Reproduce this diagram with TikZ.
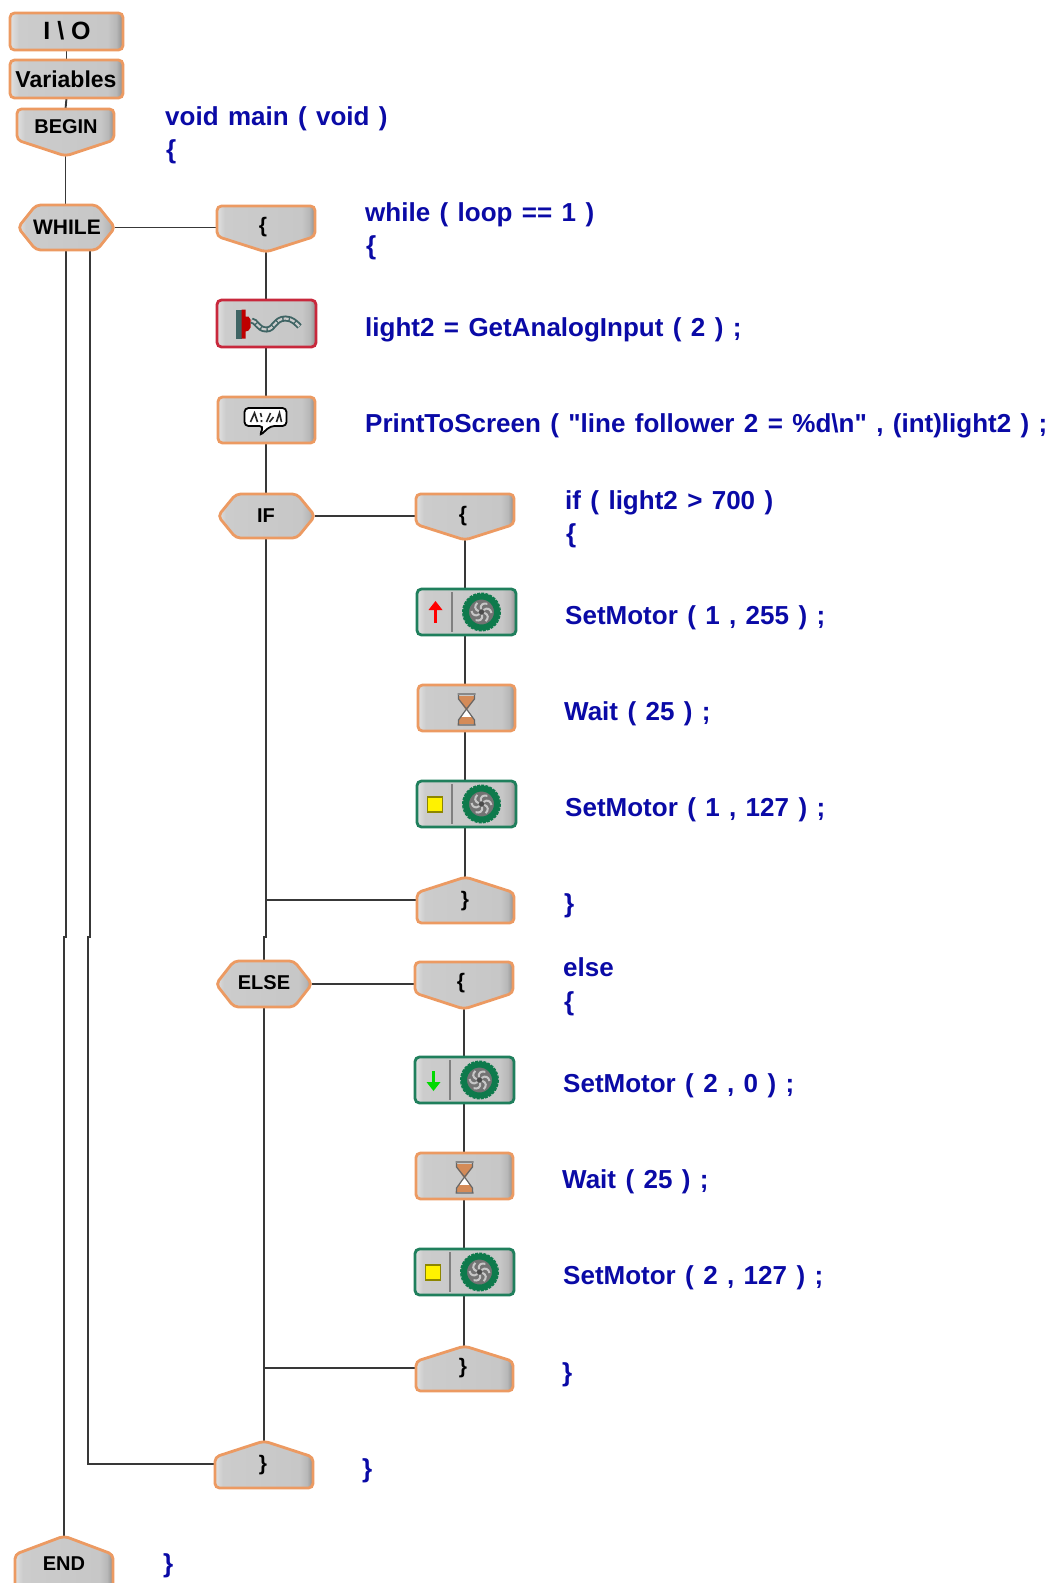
\documentclass[tikz,border=0pt]{standalone}
\usepackage{fontspec}
\setmainfont{Liberation Sans}
\newfontfamily\codefont[WordSpace=1.3]{Liberation Sans}
\usetikzlibrary{calc,fit}
\definecolor{edgeorange}{HTML}{EC9A62}
\definecolor{edgered}{HTML}{C8283C}
\definecolor{edgegreen}{HTML}{1F7F5C}
\definecolor{codeblue}{HTML}{0A0AA6}
\definecolor{wirecol}{HTML}{383838}
\definecolor{wheelgreen}{HTML}{0E7A4C}
\definecolor{chaincol}{HTML}{3F6464}
\pgfdeclarehorizontalshading{btnshade}{100bp}{color(0bp)=(white!88!black);color(25bp)=(white!88!black);color(29bp)=(white!80!black);color(68bp)=(white!78!black);color(72bp)=(white!72!black);color(75bp)=(white!55!black);color(100bp)=(white!55!black)}
\tikzset{
  plate/.style={inner sep=0pt,outer sep=0pt},
  wire/.style={draw=wirecol,line width=1.9pt},
  btn/.style={draw=#1,line width=2.8pt,rounded corners=4.5pt,shade,shading=btnshade},
  btn/.default=edgeorange,
  codetext/.style={text=codeblue,anchor=base west,inner sep=0pt,font=\codefont\bfseries\fontsize{26}{26}\selectfont},
  btnlabel/.style={text=black,inner sep=0pt,font=\bfseries\fontsize{#1}{#1}\selectfont},
  btnlabel/.default=21
}
\newcommand\plate[5]{\node[plate,fit={(#2,#3)(#4,#5)}] (#1) {};}
\newcommand\rectbtn[2][edgeorange]{\path[btn=#1] (#2.north west) rectangle (#2.south east);}
\newcommand\downbtn[1]{\path[btn] (#1.north west) -- (#1.north east) -- ($(#1.north east)!0.66!(#1.south east)$) -- (#1.south) -- ($(#1.north west)!0.66!(#1.south west)$) -- cycle;}
\newcommand\upbtn[1]{\path[btn] (#1.north) -- ($(#1.north east)!0.34!(#1.south east)$) -- (#1.south east) -- (#1.south west) -- ($(#1.north west)!0.34!(#1.south west)$) -- cycle;}
\newcommand\hexbtn[1]{\path[btn] (#1.west) -- ($(#1.north west)+(18,0)$) -- ($(#1.north east)+(-18,0)$) -- (#1.east) -- ($(#1.south east)+(-18,0)$) -- ($(#1.south west)+(18,0)$) -- cycle;}
\newcommand\wheelicon{%
  \draw[wheelgreen,line width=1.4pt,dash pattern=on 3pt off 1.2pt] (15,0) circle[radius=18.8];
  \draw[wheelgreen,line width=6pt,fill=white!45!black] (15,0) circle[radius=15.5];
  \foreach \a in {0,60,...,300}{\draw[white!78!black,line width=2pt,rotate around={\a:(15,0)}] (17,-2) .. controls (21,-5) and (24,-3) .. (25,1);}
  \fill[white!30!black] (15,0) circle[radius=2.5];
  \draw[white!50!black,line width=1.2pt] (-14.5,-20) -- (-14.5,20);
}
\newcommand\hourglass{%
  \fill[edgeorange!90!black] (-8,-12) -- (8,-12) -- (8,-9) -- (0,3) -- (-8,-9) -- cycle;
  \fill[white] (-8,15) -- (8,15) -- (0,0) -- cycle;
  \fill[edgeorange!90!black] (-9,16) -- (9,16) -- (6,9) -- (-6,9) -- cycle;
  \draw[white!40!black,line width=1.2pt] (-9,-14) -- (9,-14) (-9,17) -- (9,17) (-8,-13) -- (-8,-9) -- (0,1) -- (-8,12) -- (-8,16) (8,-13) -- (8,-9) -- (0,1) -- (8,12) -- (8,16);
}
\begin{document}
\begin{tikzpicture}[x=1pt,y=-1pt]
\useasboundingbox[fill=white] (0,0) rectangle (1053,1583);
% ---- plates
\plate{io}{10}{13}{123}{50}
\plate{vars}{10}{60}{123}{98}
\plate{begin}{17}{109}{114}{156}
\plate{while}{18}{205}{115}{250}
\plate{whileopen}{217}{206}{315}{252}
\plate{sensor}{217}{300}{316}{347}
\plate{print}{218}{397}{315}{443}
\plate{if}{218}{494}{315}{538}
\plate{ifopen}{416}{494}{514}{540}
\plate{motorA}{417}{589}{516}{635}
\plate{waitA}{418}{685}{515}{731}
\plate{motorB}{417}{781}{516}{827}
\plate{ifclose}{417}{877}{514}{923}
\plate{else}{216}{961}{312}{1007}
\plate{elseopen}{415}{962}{513}{1009}
\plate{motorC}{415}{1057}{514}{1103}
\plate{waitB}{416}{1153}{513}{1199}
\plate{motorD}{415}{1249}{514}{1295}
\plate{elseclose}{416}{1346}{513}{1391}
\plate{whileclose}{215}{1441}{313}{1488}
\plate{end}{15}{1536}{113}{1590}
% ---- free ends of connectors
\coordinate (mainTop) at (66,250);
\coordinate (mainJogA) at (66,937);
\coordinate (mainJogB) at (64,937);
\coordinate (mainEnd) at (64,1536);
\coordinate (loopTop) at (90,250);
\coordinate (loopJogA) at (90,937);
\coordinate (loopJogB) at (88,937);
\coordinate (loopCorner) at (88,1464);
\coordinate (loopEnd) at (215,1464);
\coordinate (ifTail) at (266,538);
\coordinate (ifJogA) at (266,937);
\coordinate (ifJogB) at (264,937);
\coordinate (ifJoin) at (266,900);
\coordinate (ifJoinEnd) at (417,900);
\coordinate (elseJoin) at (264,1368);
\coordinate (elseJoinEnd) at (416,1368);
% ---- connectors
\draw[wire] (io.south) -- (vars.north);
\draw[wire] (vars.south) -- (begin.north);
\draw[wire] (begin.south) -- (while.north -| begin.south);
\draw[wire] (while.east) -- (whileopen.west |- while.east);
\draw[wire] (mainTop) -- (mainJogA) -- (mainJogB) -- (mainEnd);
\draw[wire] (loopTop) -- (loopJogA) -- (loopJogB) -- (loopCorner) -- (loopEnd);
\draw[wire] (whileopen.south) -- (sensor.north -| whileopen.south);
\draw[wire] (sensor.south -| whileopen.south) -- (print.north -| whileopen.south);
\draw[wire] (print.south -| whileopen.south) -- (if.north -| whileopen.south);
\draw[wire] (if.east) -- (ifopen.west |- if.east);
\draw[wire] (ifopen.south) -- (motorA.north -| ifopen.south);
\draw[wire] (motorA.south -| ifopen.south) -- (waitA.north -| ifopen.south);
\draw[wire] (waitA.south -| ifopen.south) -- (motorB.north -| ifopen.south);
\draw[wire] (motorB.south -| ifopen.south) -- (ifclose.north -| ifopen.south);
\draw[wire] (ifTail) -- (ifJogA) -- (ifJogB) -- (else.north -| ifJogB);
\draw[wire] (ifJoin) -- (ifJoinEnd);
\draw[wire] (else.east) -- (elseopen.west |- else.east);
\draw[wire] (elseopen.south) -- (motorC.north -| elseopen.south);
\draw[wire] (motorC.south -| elseopen.south) -- (waitB.north -| elseopen.south);
\draw[wire] (waitB.south -| elseopen.south) -- (motorD.north -| elseopen.south);
\draw[wire] (motorD.south -| elseopen.south) -- (elseclose.north -| elseopen.south);
\draw[wire] (else.south) -- (whileclose.north -| else.south);
\draw[wire] (elseJoin) -- (elseJoinEnd);
% ---- bodies
\rectbtn{io}\rectbtn{vars}\downbtn{begin}\hexbtn{while}\downbtn{whileopen}
\rectbtn[edgered]{sensor}\rectbtn{print}\hexbtn{if}\downbtn{ifopen}
\rectbtn[edgegreen]{motorA}\rectbtn{waitA}\rectbtn[edgegreen]{motorB}\upbtn{ifclose}
\hexbtn{else}\downbtn{elseopen}
\rectbtn[edgegreen]{motorC}\rectbtn{waitB}\rectbtn[edgegreen]{motorD}\upbtn{elseclose}
\upbtn{whileclose}
\begin{scope}
\clip (0,0) rectangle (1053,1583);
\upbtn{end}
\end{scope}
% ---- button labels
\node[btnlabel=25] (tio) at (67,31) {I \textbackslash\ O};
\node[btnlabel=23] (tvars) at (66,79) {Variables};
\node[btnlabel=20] (tbegin) at (66,127) {BEGIN};
\node[btnlabel=21] (twhile) at (67,227) {WHILE};
\node[btnlabel=21] (twopen) at (263,227) {\{};
\node[btnlabel=20] (tif) at (266,516) {IF};
\node[btnlabel=21] (tiopen) at (463,516) {\{};
\node[btnlabel=21] (ticlose) at (465,901) {\}};
\node[btnlabel=20] (telse) at (264,983) {ELSE};
\node[btnlabel=21] (teopen) at (461,983) {\{};
\node[btnlabel=21] (teclose) at (463,1368) {\}};
\node[btnlabel=21] (twclose) at (263,1465) {\}};
\node[btnlabel=20] (tend) at (64,1564) {END};
% ---- sensor icon
\begin{scope}[shift={(sensor.center)}]
\fill[chaincol] (-31,-14) rectangle (-25,15);
\fill[red!75!black] (-25,-14) -- (-21,-14) -- (-21,-7) -- (-18,-7) -- (-16,-4) -- (-16,4) -- (-18,7) -- (-21,8) -- (-21,15) -- (-25,15) -- cycle;
\draw[chaincol,line width=6pt] (-15,-3) .. controls (-10,-3) and (-9,6) .. (0,6) .. controls (8,6) and (8,-5) .. (19,-5) .. controls (26,-5) and (30,0) .. (33,3);
\draw[white!80!black,line width=2.2pt,dash pattern=on 5pt off 1.5pt] (-15,-3) .. controls (-10,-3) and (-9,6) .. (0,6) .. controls (8,6) and (8,-5) .. (19,-5) .. controls (26,-5) and (30,0) .. (33,3);
\end{scope}
% ---- print icon
\begin{scope}[shift={(print.center)}]
\draw[black,line width=1.8pt,fill=white,rounded corners=4pt] (-22,-12) -- (20,-12) -- (20,6) -- (4,6) -- (-7,16) -- (-3,6) -- (-22,6) -- cycle;
\draw[black!85,line width=1.6pt] (-16,2) -- (-12,-7) -- (-9,2) (-6,-7) -- (-5,-3) (-5,0) -- (-5,2) (0,2) -- (4,-7) (3,2) -- (7,-3) (10,2) -- (13,-7) -- (15,2);
\end{scope}
% ---- motors
\begin{scope}[shift={(motorA.center)}]
\wheelicon
\draw[red,line width=2.6pt] (-31,-8) -- (-31,11);
\fill[red] (-38,-2) -- (-31,-11) -- (-24,-2) -- cycle;
\end{scope}
\begin{scope}[shift={(motorB.center)}]
\wheelicon
\draw[olive,line width=1.8pt,fill=yellow] (-39,-7) rectangle (-24,8);
\end{scope}
\begin{scope}[shift={(motorC.center)}]
\wheelicon
\draw[green!85!black,line width=2.6pt] (-31,-9) -- (-31,8);
\fill[green!85!black] (-38,2) -- (-31,11) -- (-24,2) -- cycle;
\end{scope}
\begin{scope}[shift={(motorD.center)}]
\wheelicon
\draw[olive,line width=1.8pt,fill=yellow] (-39,-7) rectangle (-24,8);
\end{scope}
% ---- wait icons
\begin{scope}[shift={(waitA.center)}]\hourglass\end{scope}
\begin{scope}[shift={(waitB.center)}]\hourglass\end{scope}
% ---- code
\node[codetext] (c1) at (165,125) {void main ( void )};
\node[codetext] (c2) at (166,158) {\{};
\node[codetext] (c3) at (365,221) {while ( loop == 1 )};
\node[codetext] (c4) at (366,254) {\{};
\node[codetext] (c5) at (365,336) {light2 = GetAnalogInput ( 2 ) ;};
\node[codetext] (c6) at (365,432) {PrintToScreen ( "line follower 2 = \%d\textbackslash n" , (int)light2 ) ;};
\node[codetext] (c7) at (565,509) {if ( light2 > 700 )};
\node[codetext] (c8) at (566,542) {\{};
\node[codetext] (c9) at (565,624) {SetMotor ( 1 , 255 ) ;};
\node[codetext] (c10) at (564,720) {Wait ( 25 ) ;};
\node[codetext] (c11) at (565,816) {SetMotor ( 1 , 127 ) ;};
\node[codetext] (c12) at (564,912) {\}};
\node[codetext] (c13) at (563,976) {else};
\node[codetext] (c14) at (564,1010) {\{};
\node[codetext] (c15) at (563,1092) {SetMotor ( 2 , 0 ) ;};
\node[codetext] (c16) at (562,1188) {Wait ( 25 ) ;};
\node[codetext] (c17) at (563,1284) {SetMotor ( 2 , 127 ) ;};
\node[codetext] (c18) at (562,1381) {\}};
\node[codetext] (c19) at (362,1477) {\}};
\node[codetext] (c20) at (163,1572) {\}};
\end{tikzpicture}
\end{document}
